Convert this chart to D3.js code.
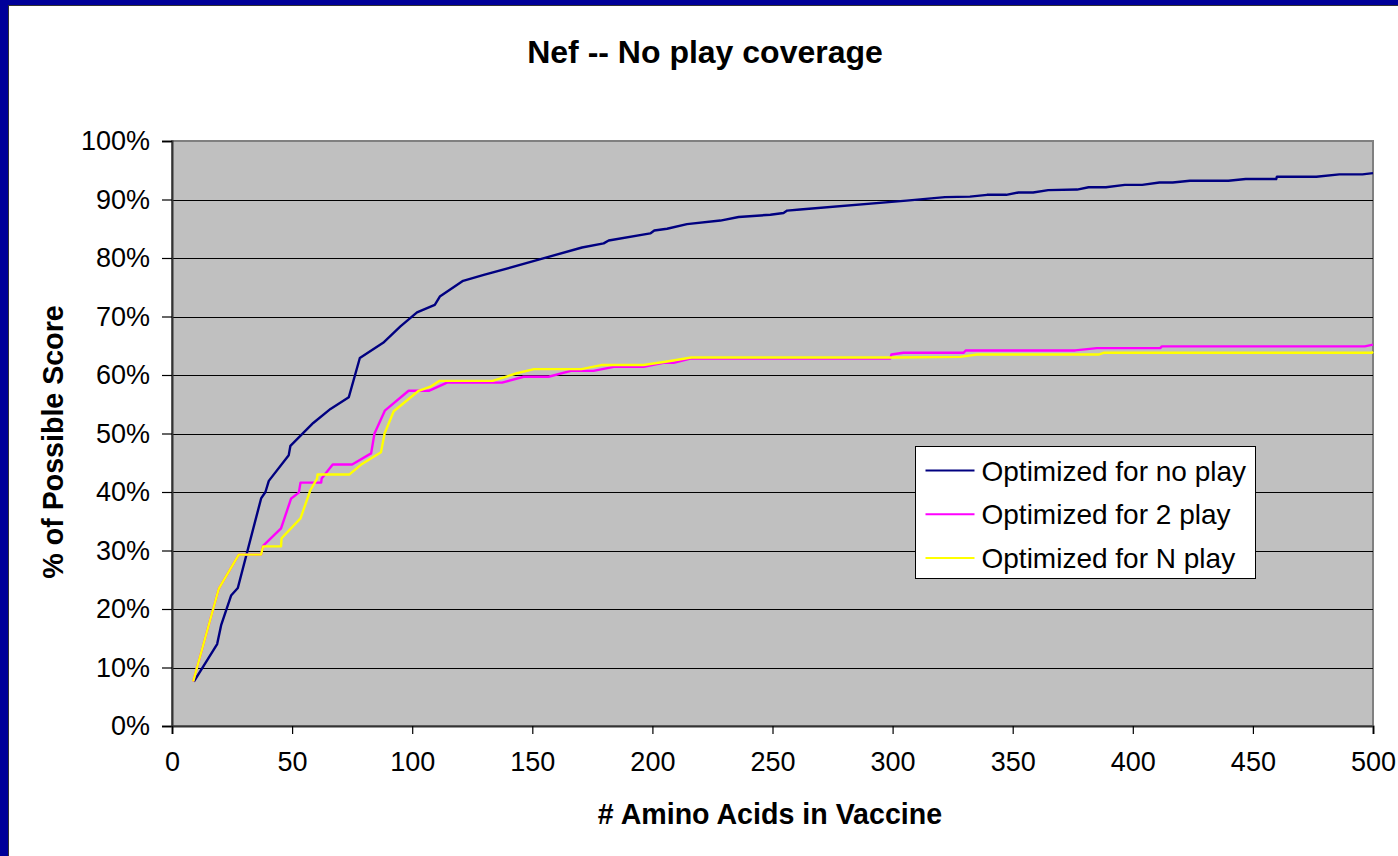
<!DOCTYPE html>
<html>
<head>
<meta charset="utf-8">
<script src="https://cdn.jsdelivr.net/npm/d3@7"></script>
<style>
  html, body { margin: 0; padding: 0; background: #000099; }
  svg { display: block; font-family: Arial, "Liberation Sans", sans-serif; }
</style>
</head>
<body>
<svg id="chart" width="1398" height="856"></svg>
<script>
// Series: amino acids in vaccine vs % of possible score
const noPlayAA  = [9.1, 18.8, 20.5, 24.6, 27.4, 37.1, 38.9, 40.3, 48.6, 49.3, 58.8, 66.0, 73.6, 78.2, 87.9, 95.1, 102.0, 109.4, 111.5, 121.2, 129.8, 153.4, 170.7, 179.7, 181.8, 199.1, 200.8, 206.1, 214.4, 228.3, 235.9, 249.1, 254.6, 256.1, 261.5, 305.8, 321.8, 332.2, 339.3, 347.3, 352.4, 358.5, 364.8, 376.8, 381.6, 388.8, 396.7, 403.9, 411.1, 416.6, 423.8, 439.8, 447.0, 459.7, 460.0, 476.4, 486.0, 495.6, 500];
const noPlayPct = [7.6, 14.0, 17.3, 22.3, 23.6, 38.9, 40.0, 41.9, 46.3, 47.9, 51.8, 54.2, 56.2, 62.9, 65.5, 68.3, 70.7, 72.0, 73.4, 76.1, 77.1, 79.8, 81.8, 82.5, 83.0, 84.2, 84.7, 85.0, 85.8, 86.4, 87.0, 87.4, 87.7, 88.1, 88.3, 89.8, 90.4, 90.5, 90.8, 90.8, 91.2, 91.2, 91.6, 91.7, 92.1, 92.1, 92.5, 92.5, 92.9, 92.9, 93.2, 93.2, 93.5, 93.5, 93.9, 93.9, 94.3, 94.3, 94.5];

const twoPlayAA  = [8.8, 19.5, 27.8, 37.1, 37.9, 45.4, 49.6, 52.8, 53.5, 62.1, 62.3, 66.9, 75.0, 82.9, 84.3, 88.6, 98.5, 106.9, 114.5, 137.4, 146.4, 156.8, 166.0, 175.5, 183.9, 196.3, 204.6, 208.8, 215.8, 299.0, 299.5, 304.5, 329.5, 330.5, 376.0, 385.0, 411.4, 412.1, 496.6, 500];
const twoPlayPct = [7.6, 23.5, 29.3, 29.3, 30.8, 33.8, 38.9, 39.9, 41.6, 41.6, 42.3, 44.7, 44.7, 46.6, 50.0, 53.9, 57.3, 57.3, 58.7, 58.7, 59.7, 59.7, 60.7, 60.7, 61.4, 61.4, 62.1, 62.1, 62.8, 62.8, 63.5, 63.8, 63.8, 64.2, 64.2, 64.6, 64.6, 64.9, 64.9, 65.2];

const nPlayAA  = [8.8, 19.5, 27.8, 37.1, 37.9, 45.4, 45.6, 53.5, 57.6, 60.4, 60.6, 73.9, 79.1, 87.0, 88.5, 92.3, 102.7, 107.6, 111.4, 133.5, 143.6, 150.7, 170.5, 178.7, 196.3, 206.1, 216.2, 299.0, 328.1, 335.1, 385.7, 387.8, 499.5, 500];
const nPlayPct = [7.6, 23.5, 29.3, 29.3, 30.7, 30.7, 32.1, 35.5, 40.3, 42.3, 43.0, 43.0, 44.8, 46.8, 50.0, 53.8, 57.3, 58.0, 59.0, 59.0, 60.3, 61.0, 61.0, 61.7, 61.7, 62.3, 63.0, 63.0, 63.1, 63.5, 63.5, 63.8, 63.8, 64.0];

const seriesNames = ["Optimized for no play", "Optimized for 2 play", "Optimized for N play"];
const seriesColors = ["#000080", "#ff00ff", "#ffff00"];
const xTickValues = [0, 50, 100, 150, 200, 250, 300, 350, 400, 450, 500];
const yTickValues = [0, 10, 20, 30, 40, 50, 60, 70, 80, 90, 100];

const series = [
  { name: seriesNames[0], color: seriesColors[0], pts: noPlayAA.map((a, i) => [a, noPlayPct[i]]) },
  { name: seriesNames[1], color: seriesColors[1], pts: twoPlayAA.map((a, i) => [a, twoPlayPct[i]]) },
  { name: seriesNames[2], color: seriesColors[2], pts: nPlayAA.map((a, i) => [a, nPlayPct[i]]) }
];

const svg = d3.select("#chart");

// slide frame: navy border, white panel
svg.append("rect").attr("x", 0).attr("y", 0).attr("width", 1398).attr("height", 856).attr("fill", "#000099");
svg.append("rect").attr("x", 8.5).attr("y", 5.5).attr("width", 1395).attr("height", 856)
  .attr("fill", "#ffffff").attr("stroke", "#333333").attr("stroke-width", 1);

const plot = { left: 172, right: 1373, top: 141, bottom: 726 };
const x = d3.scaleLinear().domain([0, 500]).range([plot.left, plot.right]);
const y = d3.scaleLinear().domain([0, 100]).range([plot.bottom, plot.top]);

// plot background
svg.append("rect")
  .attr("x", plot.left).attr("y", plot.top)
  .attr("width", plot.right - plot.left).attr("height", plot.bottom - plot.top)
  .attr("fill", "#c0c0c0").attr("stroke", "#808080").attr("stroke-width", 2);

// gridlines
svg.append("g").selectAll("line")
  .data(yTickValues.filter(d => d > 0 && d < 100))
  .join("line")
  .attr("x1", plot.left).attr("x2", plot.right)
  .attr("y1", d => Math.round(y(d)) + 0.5).attr("y2", d => Math.round(y(d)) + 0.5)
  .attr("stroke", "#000000").attr("stroke-width", 1.2);

// axes
const yAxis = d3.axisLeft(y).tickValues(yTickValues).tickFormat(d => d + "%").tickSize(10).tickPadding(12);
const xAxis = d3.axisBottom(x).tickValues(xTickValues).tickSize(8).tickPadding(22);

const gy = svg.append("g").attr("transform", `translate(${plot.left},0)`).call(yAxis);
const gx = svg.append("g").attr("transform", `translate(0,${plot.bottom})`).call(xAxis);
[gx, gy].forEach(g => {
  g.select(".domain").attr("stroke", "#333333").attr("stroke-width", 2);
  g.selectAll(".tick line").attr("stroke", "#000000").attr("stroke-width", 1.2);
  g.selectAll(".tick text").attr("font-size", 27).attr("fill", "#000000")
    .attr("font-family", "Arial, 'Liberation Sans', sans-serif");
});
gx.selectAll(".tick text").attr("dy", "0.55em");

// series lines
const line = d3.line().x(d => x(d[0])).y(d => y(d[1]));
svg.append("g").selectAll("path")
  .data(series)
  .join("path")
  .attr("d", d => line(d.pts))
  .attr("fill", "none")
  .attr("stroke", d => d.color)
  .attr("stroke-width", 2.4)
  .attr("stroke-linejoin", "round");

// title
svg.append("text")
  .attr("x", 705).attr("y", 63)
  .attr("text-anchor", "middle")
  .attr("font-size", 32).attr("font-weight", "bold")
  .text("Nef -- No play coverage");

// axis titles
svg.append("text")
  .attr("x", 770).attr("y", 824)
  .attr("text-anchor", "middle")
  .attr("font-size", 28.6).attr("font-weight", "bold")
  .text("# Amino Acids in Vaccine");

svg.append("text")
  .attr("transform", "translate(63,442) rotate(-90)")
  .attr("text-anchor", "middle")
  .attr("font-size", 28.6).attr("font-weight", "bold")
  .text("% of Possible Score");

// legend
const legend = svg.append("g").attr("transform", "translate(915.5,446.5)");
legend.append("rect")
  .attr("width", 340).attr("height", 132)
  .attr("fill", "#ffffff").attr("stroke", "#000000").attr("stroke-width", 1);
const rows = legend.selectAll("g.row").data(series).join("g")
  .attr("class", "row")
  .attr("transform", (d, i) => `translate(0,${24 + i * 43.7})`);
rows.append("line")
  .attr("x1", 10).attr("x2", 59)
  .attr("stroke", d => d.color).attr("stroke-width", 2);
rows.append("text")
  .attr("x", 66).attr("dy", "0.36em")
  .attr("font-size", 28)
  .text(d => d.name);
</script>
</body>
</html>
